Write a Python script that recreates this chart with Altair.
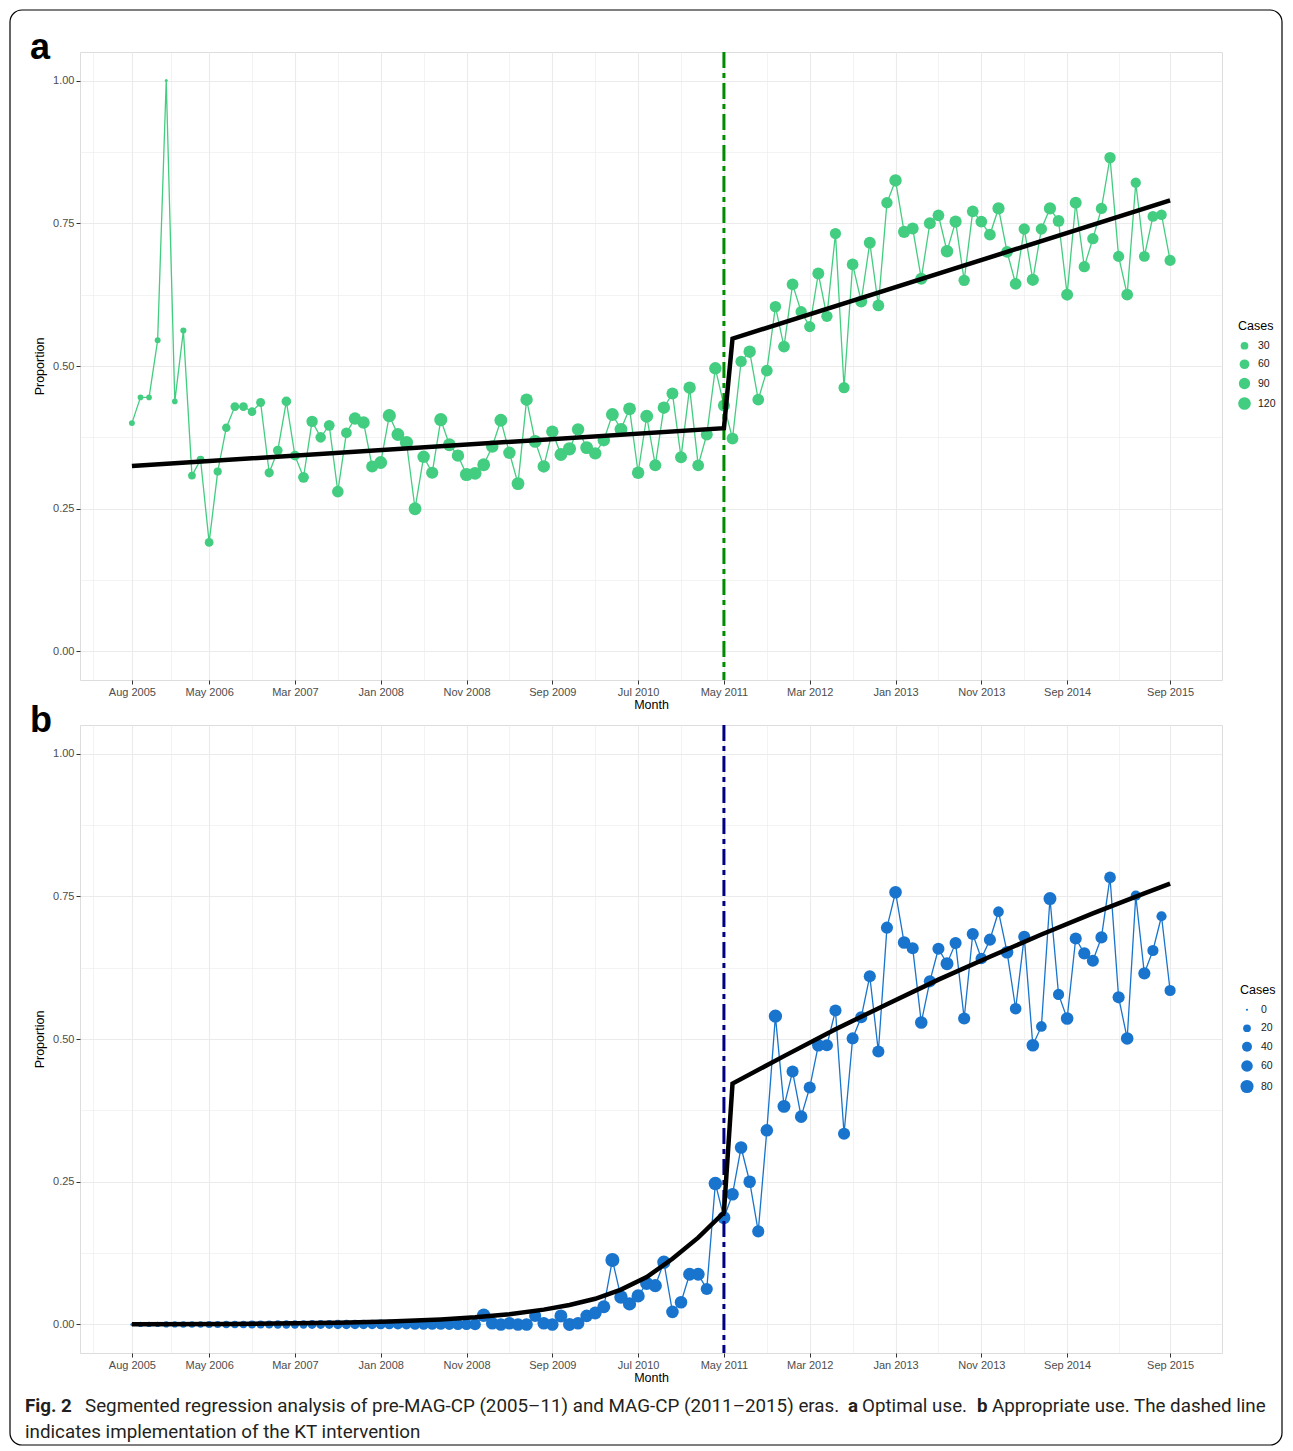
import altair as alt
import pandas as pd

# ---------------- data ----------------
month_labels = pd.date_range("2005-08-01", "2015-09-01", freq="MS").strftime("%b %Y").tolist()
month_index = list(range(len(month_labels)))  # 0 = Aug 2005 ... 121 = Sep 2015

optimal_prop = [
    0.400, 0.445, 0.445, 0.545, 1.000, 0.438, 0.562, 0.308, 0.336, 0.191,
    0.315, 0.392, 0.429, 0.429, 0.420, 0.436, 0.313, 0.352, 0.438, 0.343,
    0.305, 0.403, 0.375, 0.396, 0.280, 0.383, 0.408, 0.401, 0.324, 0.331,
    0.413, 0.380, 0.366, 0.250, 0.341, 0.313, 0.406, 0.362, 0.343, 0.310,
    0.312, 0.327, 0.359, 0.405, 0.348, 0.294, 0.441, 0.368, 0.324, 0.385,
    0.345, 0.355, 0.389, 0.357, 0.347, 0.370, 0.415, 0.389, 0.425, 0.313,
    0.412, 0.326, 0.427, 0.452, 0.340, 0.462, 0.326, 0.380, 0.496, 0.431,
    0.373, 0.508, 0.525, 0.441, 0.492, 0.604, 0.534, 0.643, 0.595, 0.569,
    0.662, 0.587, 0.732, 0.462, 0.678, 0.613, 0.716, 0.606, 0.786, 0.825,
    0.735, 0.741, 0.653, 0.750, 0.764, 0.701, 0.753, 0.650, 0.771, 0.753,
    0.730, 0.776, 0.700, 0.644, 0.740, 0.651, 0.740, 0.776, 0.754, 0.625,
    0.786, 0.674, 0.723, 0.776, 0.865, 0.692, 0.625, 0.821, 0.692, 0.762,
    0.765, 0.685,
]
optimal_cases = [
    12, 10, 10, 12, 1, 10, 14, 30, 32, 45,
    36, 40, 45, 45, 42, 48, 52, 58, 58, 62,
    80, 92, 75, 80, 98, 80, 115, 115, 105, 125,
    135, 125, 135, 125, 115, 110, 135, 125, 115, 135,
    125, 125, 115, 125, 115, 125, 115, 125, 115, 115,
    125, 135, 115, 125, 115, 115, 125, 125, 125, 115,
    125, 105, 115, 105, 105, 115, 100, 105, 115, 105,
    100, 92, 115, 100, 100, 92, 100, 100, 92, 88,
    105, 92, 88, 88, 100, 105, 105, 100, 92, 115,
    110, 105, 105, 105, 100, 115, 110, 92, 100, 100,
    100, 110, 100, 100, 92, 110, 92, 110, 100, 105,
    105, 92, 92, 92, 92, 88, 100, 70, 80, 80,
    75, 88,
]

appropriate_prop = [
    0.000, 0.000, 0.000, 0.000, 0.000, 0.000, 0.000, 0.000, 0.000, 0.000,
    0.000, 0.000, 0.000, 0.000, 0.000, 0.000, 0.000, 0.000, 0.000, 0.000,
    0.000, 0.000, 0.000, 0.000, 0.000, 0.000, 0.000, 0.000, 0.000, 0.000,
    0.000, 0.000, 0.000, 0.000, 0.000, 0.000, 0.000, 0.000, 0.000, 0.000,
    0.000, 0.016, 0.002, 0.000, 0.002, 0.000, 0.000, 0.015, 0.002, 0.000,
    0.015, 0.000, 0.002, 0.015, 0.020, 0.031, 0.113, 0.048, 0.036, 0.050,
    0.072, 0.068, 0.109, 0.022, 0.039, 0.088, 0.088, 0.062, 0.247, 0.187,
    0.228, 0.310, 0.250, 0.163, 0.340, 0.540, 0.382, 0.443, 0.364, 0.415,
    0.489, 0.489, 0.550, 0.334, 0.501, 0.538, 0.610, 0.478, 0.695, 0.757,
    0.669, 0.659, 0.529, 0.601, 0.658, 0.632, 0.668, 0.536, 0.684, 0.641,
    0.674, 0.723, 0.652, 0.553, 0.679, 0.489, 0.522, 0.746, 0.578, 0.536,
    0.676, 0.650, 0.637, 0.678, 0.783, 0.573, 0.501, 0.751, 0.615, 0.655,
    0.715, 0.585,
]
appropriate_cases = [
    1, 6, 6, 6, 10, 10, 12, 12, 12, 15,
    15, 18, 18, 18, 22, 22, 22, 25, 25, 25,
    25, 30, 30, 30, 34, 34, 36, 36, 36, 38,
    38, 42, 42, 45, 45, 48, 48, 50, 54, 54,
    60, 85, 72, 72, 72, 72, 72, 66, 72, 72,
    78, 78, 72, 72, 78, 78, 95, 85, 82, 82,
    82, 82, 82, 72, 72, 78, 78, 66, 85, 78,
    72, 72, 72, 66, 72, 82, 78, 66, 72, 66,
    72, 66, 66, 66, 66, 66, 66, 66, 66, 72,
    72, 66, 72, 66, 66, 78, 66, 66, 66, 60,
    66, 48, 72, 60, 66, 72, 48, 78, 54, 72,
    66, 66, 66, 66, 60, 66, 72, 42, 66, 54,
    42, 54,
]

# segmented-regression fitted values
fit_a_month = [0, 69, 70, 121]
fit_a_value = [0.325, 0.391, 0.548, 0.790]
fit_b_month = [0, 12, 24, 30, 36, 40, 44, 48, 51, 54, 57, 60, 63, 66, 69,
               70, 76, 82, 88, 94, 100, 106, 112, 118, 121]
fit_b_value = [0.0003, 0.0009, 0.0028, 0.005, 0.0088, 0.0125, 0.018, 0.026, 0.034,
               0.045, 0.061, 0.083, 0.115, 0.152, 0.196,
               0.422, 0.470, 0.517, 0.561, 0.604, 0.644, 0.683, 0.720, 0.755, 0.772]

intervention_month = 69  # May 2011

tick_months = [0, 9, 19, 29, 39, 49, 59, 69, 79, 89, 99, 109, 121]
tick_labels = ["Aug 2005", "May 2006", "Mar 2007", "Jan 2008", "Nov 2008", "Sep 2009",
               "Jul 2010", "May 2011", "Mar 2012", "Jan 2013", "Nov 2013", "Sep 2014",
               "Sep 2015"]
minor_months = [-4.5, 4.5, 14, 24, 34, 44, 54, 64, 74, 84, 94, 104, 115]
y_major = [0, 0.25, 0.5, 0.75, 1.0]
y_minor = [0.125, 0.375, 0.625, 0.875]

legend_a_values = [30, 60, 90, 120]
legend_b_values = [0, 20, 40, 60, 80]

caption_line1 = ["Fig. 2",
                 "Segmented regression analysis of pre-MAG-CP (2005\u201311) and MAG-CP (2011\u20132015) eras.",
                 "a", "Optimal use.", "b", "Appropriate use. The dashed line"]
caption_line2 = "indicates implementation of the KT intervention"

# ---------------- styling ----------------
FONT = "Liberation Sans"
CAP_FONT = "Roboto"
GREEN = "#43CD80"
BLUE = "#1874CD"
W, H = 1142, 628

x_test_minor = f"indexof({tick_months}, datum.value) < 0"
y_test_minor = f"indexof({y_major}, datum.value) < 0"

x_axis = alt.Axis(
    values=sorted(tick_months + minor_months),
    labelExpr=f"indexof({tick_months}, datum.value) >= 0 ? {tick_labels}[indexof({tick_months}, datum.value)] : ''",
    tickColor={"condition": {"test": x_test_minor, "value": "transparent"}, "value": "#333333"},
    gridWidth={"condition": {"test": x_test_minor, "value": 0.6}, "value": 1.1},
    gridColor="#EBEBEB", tickSize=4, tickWidth=1, domain=False,
    labelFont=FONT, labelFontSize=11, labelColor="#4D4D4D", labelPadding=2,
    labelOverlap=False, labelFlush=False,
    titleFont=FONT, titleFontSize=12.5, titleFontWeight="normal", titleColor="black",
    titlePadding=1,
)
y_axis = alt.Axis(
    values=sorted(y_major + y_minor),
    labelExpr=f"indexof({y_major}, datum.value) >= 0 ? format(datum.value, '.2f') : ''",
    tickColor={"condition": {"test": y_test_minor, "value": "transparent"}, "value": "#333333"},
    gridWidth={"condition": {"test": y_test_minor, "value": 0.6}, "value": 1.1},
    gridColor="#EBEBEB", tickSize=4, tickWidth=1, domain=False,
    labelFont=FONT, labelFontSize=11, labelColor="#4D4D4D", labelPadding=2,
    labelOverlap=False,
    titleFont=FONT, titleFontSize=12.5, titleFontWeight="normal", titleColor="black",
    titlePadding=6,
)

x_enc = alt.X("month:Q", title="Month", axis=x_axis,
              scale=alt.Scale(domain=[-6.05, 127.05], nice=False, zero=False))
y_enc = alt.Y("prop:Q", title="Proportion", axis=y_axis,
              scale=alt.Scale(domain=[-0.05, 1.05], nice=False, zero=False))

one = pd.DataFrame({"k": [0]})


def panel(prop, cases, fit_m, fit_v, color, vcolor, letter, size_dom, size_rng,
          leg_vals, leg_x, leg_y, extras):
    df = pd.DataFrame({"month": month_index, "label": month_labels,
                       "prop": prop, "cases": cases})
    fit = pd.DataFrame({"month": fit_m, "prop": fit_v})
    vdf = pd.DataFrame({"month": [intervention_month]})

    line = alt.Chart(df).mark_line(color=color, strokeWidth=1.3).encode(x=x_enc, y=y_enc)
    pts = alt.Chart(df).mark_circle(color=color, opacity=1).encode(
        x=x_enc, y=y_enc,
        size=alt.Size("cases:Q", title="Cases",
                      scale=alt.Scale(type="linear", domain=size_dom, range=size_rng),
                      legend=alt.Legend(values=leg_vals, orient="none", legendX=leg_x,
                                        legendY=leg_y, titleFont=FONT, titleFontSize=12.5,
                                        titleFontWeight="normal", titleColor="black",
                                        labelFont=FONT, labelFontSize=10.5,
                                        labelColor="#1A1A1A", rowPadding=7.5,
                                        symbolStrokeWidth=0, titlePadding=8,
                                        labelOffset=7)),
        tooltip=["label:N", "prop:Q", "cases:Q"],
    )
    vline = alt.Chart(vdf).mark_rule(color=vcolor, strokeWidth=3,
                                     strokeDash=[16, 5, 5, 5]).encode(x=x_enc)
    fitl = alt.Chart(fit).mark_line(color="black", strokeWidth=4.5).encode(x=x_enc, y=y_enc)
    lab = alt.Chart(one).mark_text(text=letter, font=FONT, fontSize=36, fontWeight="bold",
                                   align="left", baseline="alphabetic", color="black").encode(
        x=alt.value(-50), y=alt.value(7))
    return alt.layer(*extras, lab, line, pts, vline, fitl).properties(width=W, height=H)


frame = alt.Chart(one).mark_rect(filled=False, stroke="black", strokeWidth=1.2,
                                 cornerRadius=12).encode(
    x=alt.value(-70), x2=alt.value(1202), y=alt.value(-42), y2=alt.value(1393))

cap_y1, cap_y2 = 687, 713
cap_x = [-55, 5, 768, 782, 897, 912]
cap_bold = [True, False, True, False, True, False]
caption_layers = []
for txt, cx, b in zip(caption_line1, cap_x, cap_bold):
    caption_layers.append(
        alt.Chart(one).mark_text(text=txt, font=CAP_FONT, fontSize=18.8,
                                 fontWeight="bold" if b else "normal", align="left",
                                 baseline="alphabetic", color="#231F20").encode(
            x=alt.value(cx), y=alt.value(cap_y1)))
caption_layers.append(
    alt.Chart(one).mark_text(text=caption_line2, font=CAP_FONT, fontSize=18.8,
                             align="left", baseline="alphabetic", color="#231F20").encode(
        x=alt.value(-55), y=alt.value(cap_y2)))

panel_a = panel(optimal_prop, optimal_cases, fit_a_month, fit_a_value, GREEN, "#008B00", "a",
                [1, 10, 30, 60, 90, 120, 150], [9, 32, 60, 95, 127, 160, 188],
                legend_a_values, 1158, 268, [frame])
panel_b = panel(appropriate_prop, appropriate_cases, fit_b_month, fit_b_value, BLUE, "#000080", "b",
                [0, 5, 10, 20, 40, 60, 80, 100], [5, 26, 38, 60, 100, 136, 172, 206],
                legend_b_values, 1160, 259, caption_layers)

chart = alt.vconcat(panel_a, panel_b, spacing=45, bounds="flush", padding=0).resolve_scale(
    size="independent").resolve_legend(size="independent").configure_view(
    stroke="#ABABAB", strokeWidth=1).configure(background="white")

chart.save("out.html", embed_options={"renderer": "svg", "actions": False})
